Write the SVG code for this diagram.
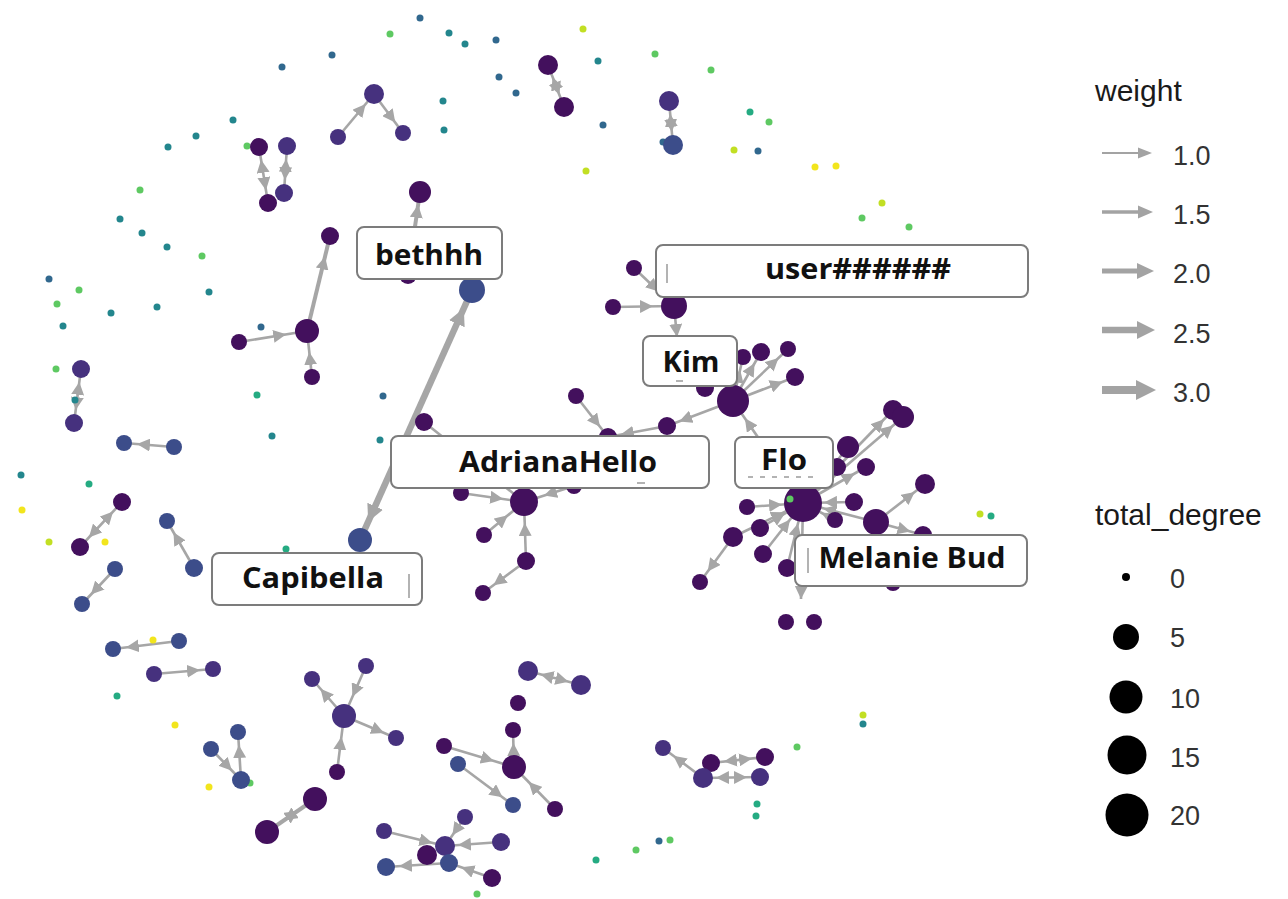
<svg xmlns="http://www.w3.org/2000/svg" width="1288" height="899" viewBox="0 0 1288 899">
<style>
.d{fill:#43105d}.i{fill:#46317e}.b{fill:#3c4d8a}
.sb{fill:#31688e}.st{fill:#23868d}.sg{fill:#25ab82}.sG{fill:#5ec962}.sy{fill:#c2df23}.sY{fill:#f2e51d}
.e{stroke:#a6a6a6;fill:none;stroke-width:2.6}.e2{stroke-width:4}.e3{stroke-width:6.5}
.lb{fill:#fff;stroke:#7c7c7c;stroke-width:2}
.lt{font-family:"Open Sans","Liberation Sans",sans-serif;font-weight:700;font-size:29px;fill:#111;text-anchor:middle}
.tt{font-family:"Liberation Sans",Arial,sans-serif;font-size:30px;fill:#1a1a1a}
.tl{font-family:"Liberation Sans",Arial,sans-serif;font-size:27px;fill:#333}
.art{stroke:#9a9a9a;stroke-width:1.5}
</style>
<defs>
<marker id="a" viewBox="0 0 27 13" refX="26" refY="6.5" markerWidth="27" markerHeight="13" orient="auto-start-reverse" markerUnits="userSpaceOnUse"><path d="M0,0L13,6.5L0,13z" fill="#a6a6a6"/></marker>
<marker id="A" viewBox="0 0 35 13" refX="34" refY="6.5" markerWidth="35" markerHeight="13" orient="auto-start-reverse" markerUnits="userSpaceOnUse"><path d="M0,0L13,6.5L0,13z" fill="#a6a6a6"/></marker>
<marker id="T" viewBox="0 0 38 17" refX="37" refY="8.5" markerWidth="38" markerHeight="17" orient="auto-start-reverse" markerUnits="userSpaceOnUse"><path d="M0,0L17,8.5L0,17z" fill="#a6a6a6"/></marker>
<marker id="t" viewBox="0 0 13 13" refX="13" refY="6.5" markerWidth="13" markerHeight="13" orient="auto" markerUnits="userSpaceOnUse"><path d="M0,0L13,6.5L0,13z" fill="#a6a6a6"/></marker>
</defs>
<rect width="1288" height="899" fill="#fff"/>

<g id="edges">
<path class="e" d="M338,137L374,94" marker-end="url(#a)"/>
<path class="e" d="M374,94L403,133" marker-end="url(#a)"/>
<path class="e" d="M548,65L564,107" marker-start="url(#a)" marker-end="url(#a)"/>
<path class="e" d="M669,101L673,145" marker-start="url(#a)" marker-end="url(#a)"/>
<path class="e" d="M259,147L268,203" marker-start="url(#a)" marker-end="url(#a)"/>
<path class="e" d="M287,146L284,193" marker-start="url(#a)" marker-end="url(#a)"/>
<path class="e e2" d="M408,275L420,192" marker-end="url(#a)"/>
<path class="e e2" d="M307,331L330,236" marker-end="url(#A)"/>
<path class="e" d="M239,342L307,331" marker-end="url(#A)"/>
<path class="e" d="M312,377L307,331" marker-end="url(#A)"/>
<path class="e" d="M81,369L74,423" marker-start="url(#a)" marker-end="url(#a)"/>
<path class="e" d="M174,447L124,443" marker-end="url(#a)"/>
<path class="e" d="M122,502L80,547" marker-start="url(#a)" marker-end="url(#a)"/>
<path class="e" d="M194,568L167,521" marker-end="url(#a)"/>
<path class="e" d="M115,569L82,604" marker-end="url(#a)"/>
<path class="e e3" d="M360,540L472,290" marker-start="url(#T)" marker-end="url(#T)"/>
<path class="e" d="M179,641L113,649" marker-end="url(#a)"/>
<path class="e" d="M154,674L213,669" marker-end="url(#a)"/>
<path class="e" d="M211,749L241,780" marker-end="url(#a)"/>
<path class="e" d="M241,780L238,732" marker-end="url(#a)"/>
<path class="e" d="M344,716L312,679" marker-end="url(#a)"/>
<path class="e" d="M337,772L344,716" marker-end="url(#A)"/>
<path class="e" d="M366,666L344,716" marker-end="url(#A)"/>
<path class="e" d="M344,716L396,738" marker-end="url(#a)"/>
<path class="e e2" d="M315,799L267,832" marker-start="url(#A)" marker-end="url(#A)"/>
<path class="e" d="M528,671L581,685" marker-start="url(#a)" marker-end="url(#a)"/>
<path class="e" d="M514,767L513,730" marker-end="url(#a)"/>
<path class="e" d="M444,746L514,767" marker-end="url(#A)"/>
<path class="e" d="M458,764L513,805" marker-end="url(#a)"/>
<path class="e" d="M555,809L514,767" marker-end="url(#A)"/>
<path class="e" d="M465,817L445,846" marker-end="url(#a)"/>
<path class="e" d="M384,831L445,846" marker-end="url(#a)"/>
<path class="e" d="M501,842L445,846" marker-end="url(#a)"/>
<path class="e" d="M492,878L449,863" marker-end="url(#a)"/>
<path class="e" d="M449,863L386,867" marker-end="url(#a)"/>
<path class="e" d="M703,778L663,748" marker-end="url(#a)"/>
<path class="e" d="M711,763L765,757" marker-start="url(#a)" marker-end="url(#a)"/>
<path class="e" d="M703,778L760,777" marker-start="url(#a)" marker-end="url(#a)"/>
<path class="e" d="M634,268L674,306" marker-end="url(#A)"/>
<path class="e" d="M613,307L674,306" marker-end="url(#A)"/>
<path class="e" d="M674,306L677,337" marker-end="url(#t)"/>
<path class="e" d="M733,401L761,352" marker-end="url(#a)"/>
<path class="e" d="M733,401L788,349" marker-end="url(#a)"/>
<path class="e" d="M733,401L795,377" marker-end="url(#a)"/>
<path class="e" d="M733,401L743,357" marker-end="url(#a)"/>
<path class="e" d="M733,401L667,426" marker-end="url(#a)"/>
<path class="e" d="M667,426L608,437" marker-end="url(#a)"/>
<path class="e" d="M576,396L608,437" marker-end="url(#a)"/>
<path class="e" d="M424,422L524,502" marker-end="url(#A)"/>
<path class="e" d="M461,493L524,502" marker-end="url(#A)"/>
<path class="e" d="M484,535L524,502" marker-end="url(#A)"/>
<path class="e" d="M526,561L524,502" marker-end="url(#A)"/>
<path class="e" d="M526,561L483,593" marker-end="url(#a)"/>
<path class="e" d="M574,486L524,502" marker-end="url(#A)"/>
<path class="e" d="M803,503L733,401" marker-end="url(#A)"/>
<path class="e" d="M747,507L803,503" marker-end="url(#A)"/>
<path class="e" d="M760,528L803,503" marker-end="url(#A)"/>
<path class="e" d="M733,537L803,503" marker-end="url(#A)"/>
<path class="e" d="M763,554L803,503" marker-end="url(#A)"/>
<path class="e" d="M787,568L803,503" marker-end="url(#A)"/>
<path class="e" d="M837,467L803,503" marker-end="url(#A)"/>
<path class="e" d="M854,502L803,503" marker-end="url(#A)"/>
<path class="e" d="M835,520L803,503" marker-end="url(#A)"/>
<path class="e" d="M876,522L803,503" marker-end="url(#A)"/>
<path class="e" d="M803,503L893,410" marker-end="url(#a)"/>
<path class="e" d="M803,503L903,417" marker-end="url(#a)"/>
<path class="e" d="M803,503L848,447" marker-end="url(#a)"/>
<path class="e" d="M803,503L866,467" marker-end="url(#a)"/>
<path class="e" d="M803,503L801,599" marker-end="url(#t)"/>
<path class="e" d="M733,537L700,582" marker-end="url(#a)"/>
<path class="e" d="M876,522L925,484" marker-end="url(#a)"/>
<path class="e" d="M876,522L923,535" marker-end="url(#a)"/>
</g>

<g id="isolates">
<g id="s1"><circle class="sb" cx="420" cy="18" r="3.5"/></g>
<g id="s2"><circle class="sG" cx="390" cy="34" r="3.5"/></g>
<g id="s3"><circle class="st" cx="449" cy="33" r="3.5"/></g>
<g id="s4"><circle class="st" cx="465" cy="44" r="3.5"/></g>
<g id="s5"><circle class="sb" cx="496" cy="40" r="3.5"/></g>
<g id="s6"><circle class="sb" cx="332" cy="55" r="3.5"/></g>
<g id="s7"><circle class="sb" cx="282" cy="67" r="3.5"/></g>
<g id="s8"><circle class="sb" cx="499" cy="77" r="3.5"/></g>
<g id="s9"><circle class="sb" cx="516" cy="93" r="3.5"/></g>
<g id="s10"><circle class="st" cx="443" cy="101" r="3.5"/></g>
<g id="s11"><circle class="st" cx="444" cy="130" r="3.5"/></g>
<g id="s12"><circle class="sy" cx="583" cy="29" r="3.5"/></g>
<g id="s13"><circle class="st" cx="598" cy="61" r="3.5"/></g>
<g id="s14"><circle class="sG" cx="655" cy="54" r="3.5"/></g>
<g id="s15"><circle class="sb" cx="603" cy="125" r="3.5"/></g>
<g id="s16"><circle class="sy" cx="586" cy="171" r="3.5"/></g>
<g id="s17"><circle class="sb" cx="663" cy="142" r="3.5"/></g>
<g id="s18"><circle class="sG" cx="711" cy="70" r="3.5"/></g>
<g id="s19"><circle class="sg" cx="750" cy="112" r="3.5"/></g>
<g id="s20"><circle class="sG" cx="769" cy="122" r="3.5"/></g>
<g id="s21"><circle class="sy" cx="734" cy="150" r="3.5"/></g>
<g id="s22"><circle class="sb" cx="758" cy="151" r="3.5"/></g>
<g id="s23"><circle class="sY" cx="815" cy="167" r="3.5"/></g>
<g id="s24"><circle class="sY" cx="836" cy="166" r="3.5"/></g>
<g id="s25"><circle class="sy" cx="882" cy="203" r="3.5"/></g>
<g id="s26"><circle class="sG" cx="862" cy="218" r="3.5"/></g>
<g id="s27"><circle class="sG" cx="909" cy="227" r="3.5"/></g>
<g id="s28"><circle class="st" cx="233" cy="120" r="3.5"/></g>
<g id="s29"><circle class="st" cx="196" cy="136" r="3.5"/></g>
<g id="s30"><circle class="st" cx="168" cy="147" r="3.5"/></g>
<g id="s31"><circle class="sG" cx="247" cy="146" r="3.5"/></g>
<g id="s32"><circle class="sG" cx="140" cy="190" r="3.5"/></g>
<g id="s33"><circle class="st" cx="120" cy="219" r="3.5"/></g>
<g id="s34"><circle class="st" cx="142" cy="233" r="3.5"/></g>
<g id="s35"><circle class="st" cx="167" cy="247" r="3.5"/></g>
<g id="s36"><circle class="sG" cx="202" cy="256" r="3.5"/></g>
<g id="s37"><circle class="sb" cx="49" cy="279" r="3.5"/></g>
<g id="s38"><circle class="sG" cx="79" cy="290" r="3.5"/></g>
<g id="s39"><circle class="st" cx="209" cy="292" r="3.5"/></g>
<g id="s40"><circle class="sG" cx="57" cy="304" r="3.5"/></g>
<g id="s41"><circle class="st" cx="111" cy="313" r="3.5"/></g>
<g id="s42"><circle class="st" cx="157" cy="307" r="3.5"/></g>
<g id="s43"><circle class="st" cx="63" cy="326" r="3.5"/></g>
<g id="s44"><circle class="sb" cx="261" cy="327" r="3.5"/></g>
<g id="s45"><circle class="sG" cx="56" cy="369" r="3.5"/></g>
<g id="s46"><circle class="st" cx="75" cy="400" r="3.5"/></g>
<g id="s47"><circle class="sg" cx="257" cy="395" r="3.5"/></g>
<g id="s48"><circle class="st" cx="272" cy="436" r="3.5"/></g>
<g id="s49"><circle class="st" cx="21" cy="475" r="3.5"/></g>
<g id="s50"><circle class="sg" cx="89" cy="484" r="3.5"/></g>
<g id="s51"><circle class="sY" cx="22" cy="510" r="3.5"/></g>
<g id="s52"><circle class="sy" cx="49" cy="542" r="3.5"/></g>
<g id="s53"><circle class="sY" cx="105" cy="542" r="3.5"/></g>
<g id="s54"><circle class="sg" cx="286" cy="549" r="3.5"/></g>
<g id="s55"><circle class="sY" cx="153" cy="640" r="3.5"/></g>
<g id="s56"><circle class="sg" cx="117" cy="696" r="3.5"/></g>
<g id="s57"><circle class="sY" cx="175" cy="725" r="3.5"/></g>
<g id="s58"><circle class="sY" cx="209" cy="787" r="3.5"/></g>
<g id="s59"><circle class="sG" cx="250" cy="783" r="3.5"/></g>
<g id="s60"><circle class="sb" cx="383" cy="396" r="3.5"/></g>
<g id="s61"><circle class="st" cx="380" cy="440" r="3.5"/></g>
<g id="s62"><circle class="sG" cx="477" cy="894" r="3.5"/></g>
<g id="s63"><circle class="sg" cx="596" cy="860" r="3.5"/></g>
<g id="s64"><circle class="sG" cx="636" cy="850" r="3.5"/></g>
<g id="s65"><circle class="sb" cx="659" cy="841" r="3.5"/></g>
<g id="s66"><circle class="sG" cx="670" cy="840" r="3.5"/></g>
<g id="s67"><circle class="sy" cx="863" cy="715" r="3.5"/></g>
<g id="s68"><circle class="st" cx="863" cy="724" r="3.5"/></g>
<g id="s69"><circle class="sG" cx="797" cy="747" r="3.5"/></g>
<g id="s70"><circle class="sg" cx="757" cy="804" r="3.5"/></g>
<g id="s71"><circle class="sg" cx="756" cy="816" r="3.5"/></g>
<g id="s72"><circle class="sy" cx="980" cy="514" r="3.5"/></g>
<g id="s73"><circle class="sg" cx="991" cy="516" r="3.5"/></g>
</g>

<g id="nodes">
<g id="n1"><circle class="d" cx="548" cy="65" r="10"/></g>
<g id="n2"><circle class="d" cx="564" cy="107" r="10"/></g>
<g id="n3"><circle class="d" cx="259" cy="147" r="9"/></g>
<g id="n4"><circle class="d" cx="268" cy="203" r="9"/></g>
<g id="n5"><circle class="d" cx="420" cy="192" r="11"/></g>
<g id="n6"><circle class="d" cx="330" cy="236" r="9"/></g>
<g id="n7"><circle class="d" cx="408" cy="275" r="9"/></g>
<g id="n8"><circle class="d" cx="307" cy="331" r="12"/></g>
<g id="n9"><circle class="d" cx="239" cy="342" r="8"/></g>
<g id="n10"><circle class="d" cx="312" cy="377" r="8"/></g>
<g id="n11"><circle class="d" cx="122" cy="502" r="9"/></g>
<g id="n12"><circle class="d" cx="80" cy="547" r="9"/></g>
<g id="n13"><circle class="d" cx="337" cy="772" r="8"/></g>
<g id="n14"><circle class="d" cx="315" cy="799" r="12"/></g>
<g id="n15"><circle class="d" cx="267" cy="832" r="12"/></g>
<g id="n16"><circle class="d" cx="518" cy="703" r="8"/></g>
<g id="n17"><circle class="d" cx="513" cy="730" r="8"/></g>
<g id="n18"><circle class="d" cx="514" cy="767" r="12"/></g>
<g id="n19"><circle class="d" cx="444" cy="746" r="8"/></g>
<g id="n20"><circle class="d" cx="555" cy="809" r="8"/></g>
<g id="n21"><circle class="d" cx="427" cy="855" r="10"/></g>
<g id="n22"><circle class="d" cx="492" cy="878" r="9"/></g>
<g id="n23"><circle class="d" cx="711" cy="763" r="9"/></g>
<g id="n24"><circle class="d" cx="765" cy="757" r="9"/></g>
<g id="n25"><circle class="d" cx="786" cy="622" r="8"/></g>
<g id="n26"><circle class="d" cx="814" cy="622" r="8"/></g>
<g id="n27"><circle class="d" cx="634" cy="268" r="8"/></g>
<g id="n28"><circle class="d" cx="613" cy="307" r="8"/></g>
<g id="n29"><circle class="d" cx="674" cy="306" r="13"/></g>
<g id="n30"><circle class="d" cx="733" cy="401" r="16"/></g>
<g id="n31"><circle class="d" cx="761" cy="352" r="9"/></g>
<g id="n32"><circle class="d" cx="788" cy="349" r="8"/></g>
<g id="n33"><circle class="d" cx="743" cy="357" r="8"/></g>
<g id="n34"><circle class="d" cx="795" cy="377" r="9"/></g>
<g id="n35"><circle class="d" cx="705" cy="388" r="9"/></g>
<g id="n36"><circle class="d" cx="667" cy="426" r="9"/></g>
<g id="n37"><circle class="d" cx="608" cy="437" r="9"/></g>
<g id="n38"><circle class="d" cx="576" cy="396" r="8"/></g>
<g id="n39"><circle class="d" cx="424" cy="422" r="9"/></g>
<g id="n40"><circle class="d" cx="524" cy="502" r="14"/></g>
<g id="n41"><circle class="d" cx="461" cy="493" r="8"/></g>
<g id="n42"><circle class="d" cx="484" cy="535" r="8"/></g>
<g id="n43"><circle class="d" cx="526" cy="561" r="9"/></g>
<g id="n44"><circle class="d" cx="483" cy="593" r="8"/></g>
<g id="n45"><circle class="d" cx="574" cy="486" r="8"/></g>
<g id="n46"><circle class="d" cx="803" cy="503" r="19"/></g>
<g id="n47"><circle class="d" cx="747" cy="507" r="8"/></g>
<g id="n48"><circle class="d" cx="760" cy="528" r="9"/></g>
<g id="n49"><circle class="d" cx="733" cy="537" r="10"/></g>
<g id="n50"><circle class="d" cx="763" cy="554" r="9"/></g>
<g id="n51"><circle class="d" cx="787" cy="568" r="9"/></g>
<g id="n52"><circle class="d" cx="700" cy="582" r="8"/></g>
<g id="n53"><circle class="d" cx="848" cy="447" r="11"/></g>
<g id="n54"><circle class="d" cx="866" cy="467" r="9"/></g>
<g id="n55"><circle class="d" cx="837" cy="467" r="9"/></g>
<g id="n56"><circle class="d" cx="854" cy="502" r="9"/></g>
<g id="n57"><circle class="d" cx="835" cy="520" r="8"/></g>
<g id="n58"><circle class="d" cx="876" cy="522" r="13"/></g>
<g id="n59"><circle class="d" cx="925" cy="484" r="10"/></g>
<g id="n60"><circle class="d" cx="893" cy="410" r="10"/></g>
<g id="n61"><circle class="d" cx="903" cy="417" r="11"/></g>
<g id="n62"><circle class="d" cx="923" cy="535" r="9"/></g>
<g id="n63"><circle class="d" cx="893" cy="583" r="8"/></g>
<g id="n64"><circle class="i" cx="374" cy="94" r="10"/></g>
<g id="n65"><circle class="i" cx="403" cy="133" r="8"/></g>
<g id="n66"><circle class="i" cx="338" cy="137" r="8"/></g>
<g id="n67"><circle class="i" cx="669" cy="101" r="10"/></g>
<g id="n68"><circle class="i" cx="287" cy="146" r="9"/></g>
<g id="n69"><circle class="i" cx="284" cy="193" r="9"/></g>
<g id="n70"><circle class="i" cx="81" cy="369" r="9"/></g>
<g id="n71"><circle class="i" cx="74" cy="423" r="9"/></g>
<g id="n72"><circle class="i" cx="154" cy="674" r="8"/></g>
<g id="n73"><circle class="i" cx="213" cy="669" r="8"/></g>
<g id="n74"><circle class="i" cx="312" cy="679" r="8"/></g>
<g id="n75"><circle class="i" cx="366" cy="666" r="8"/></g>
<g id="n76"><circle class="i" cx="344" cy="716" r="12"/></g>
<g id="n77"><circle class="i" cx="396" cy="738" r="8"/></g>
<g id="n78"><circle class="i" cx="528" cy="671" r="10"/></g>
<g id="n79"><circle class="i" cx="581" cy="685" r="10"/></g>
<g id="n80"><circle class="i" cx="465" cy="817" r="8"/></g>
<g id="n81"><circle class="i" cx="384" cy="831" r="8"/></g>
<g id="n82"><circle class="i" cx="445" cy="846" r="10"/></g>
<g id="n83"><circle class="i" cx="501" cy="842" r="9"/></g>
<g id="n84"><circle class="i" cx="663" cy="748" r="8"/></g>
<g id="n85"><circle class="i" cx="703" cy="778" r="10"/></g>
<g id="n86"><circle class="i" cx="760" cy="777" r="9"/></g>
<g id="n87"><circle class="b" cx="673" cy="145" r="10"/></g>
<g id="n88"><circle class="b" cx="472" cy="290" r="13"/></g>
<g id="n89"><circle class="b" cx="124" cy="443" r="8"/></g>
<g id="n90"><circle class="b" cx="174" cy="447" r="8"/></g>
<g id="n91"><circle class="b" cx="167" cy="521" r="8"/></g>
<g id="n92"><circle class="b" cx="194" cy="568" r="9"/></g>
<g id="n93"><circle class="b" cx="115" cy="569" r="8"/></g>
<g id="n94"><circle class="b" cx="82" cy="604" r="8"/></g>
<g id="n95"><circle class="b" cx="360" cy="540" r="12"/></g>
<g id="n96"><circle class="b" cx="113" cy="649" r="8"/></g>
<g id="n97"><circle class="b" cx="179" cy="641" r="8"/></g>
<g id="n98"><circle class="b" cx="238" cy="732" r="8"/></g>
<g id="n99"><circle class="b" cx="211" cy="749" r="8"/></g>
<g id="n100"><circle class="b" cx="241" cy="780" r="9"/></g>
<g id="n101"><circle class="b" cx="458" cy="764" r="8"/></g>
<g id="n102"><circle class="b" cx="513" cy="805" r="8"/></g>
<g id="n103"><circle class="b" cx="449" cy="863" r="9"/></g>
<g id="n104"><circle class="b" cx="386" cy="867" r="9"/></g>
<g id="n105"><circle class="sG" cx="790" cy="499" r="3.5"/></g>
</g>

<g id="labels">
<g id="label-bethhh"><rect class="lb" x="357" y="227" width="145" height="52" rx="7"/><text class="lt" x="429" y="265" textLength="108" lengthAdjust="spacingAndGlyphs">bethhh</text></g>
<g id="label-user"><rect class="lb" x="656" y="245" width="372" height="52" rx="7"/><line class="art" x1="667" y1="264" x2="667" y2="283"/><text class="lt" x="858" y="279" textLength="186" lengthAdjust="spacingAndGlyphs">user######</text></g>
<g id="label-kim"><rect class="lb" x="643" y="336" width="94" height="50" rx="7"/><line class="art" x1="676" y1="381" x2="683" y2="381"/><text class="lt" x="691" y="372" textLength="57" lengthAdjust="spacingAndGlyphs">Kim</text></g>
<g id="label-adriana"><rect class="lb" x="391" y="436" width="318" height="52" rx="7"/><line class="art" x1="637" y1="483" x2="645" y2="483"/><text class="lt" x="558" y="472" textLength="198" lengthAdjust="spacingAndGlyphs">AdrianaHello</text></g>
<g id="label-flo"><rect class="lb" x="735" y="437" width="98" height="51" rx="7"/><line class="art" x1="748" y1="477" x2="816" y2="477" stroke-dasharray="5,7"/><text class="lt" x="784" y="470" textLength="46" lengthAdjust="spacingAndGlyphs">Flo</text></g>
<g id="label-melanie"><rect class="lb" x="795" y="535" width="232" height="51" rx="7"/><line class="art" x1="808" y1="548" x2="808" y2="573"/><text class="lt" x="912" y="568" textLength="187" lengthAdjust="spacingAndGlyphs">Melanie Bud</text></g>
<g id="label-capibella"><rect class="lb" x="212" y="553" width="210" height="52" rx="7"/><line class="art" x1="409" y1="574" x2="409" y2="598"/><text class="lt" x="313" y="588" textLength="142" lengthAdjust="spacingAndGlyphs">Capibella</text></g>
</g>

<g id="legend-weight">
<text class="tt" x="1095" y="101">weight</text>
<g fill="#a3a3a3" stroke="#a3a3a3">
<line x1="1102" y1="153" x2="1140" y2="153" stroke-width="2"/><path d="M1138,147.5L1152,153L1138,158.5z" stroke="none"/>
<line x1="1102" y1="212" x2="1140" y2="212" stroke-width="3.5"/><path d="M1138,205.5L1153,212L1138,218.5z" stroke="none"/>
<line x1="1102" y1="271" x2="1140" y2="271" stroke-width="5"/><path d="M1137,263L1154,271L1137,279z" stroke="none"/>
<line x1="1102" y1="330" x2="1140" y2="330" stroke-width="6.5"/><path d="M1137,321L1155,330L1137,339z" stroke="none"/>
<line x1="1102" y1="390" x2="1140" y2="390" stroke-width="8"/><path d="M1136,380L1156,390L1136,400z" stroke="none"/>
</g>
<text class="tl" x="1173" y="165">1.0</text>
<text class="tl" x="1173" y="224">1.5</text>
<text class="tl" x="1173" y="283">2.0</text>
<text class="tl" x="1173" y="343">2.5</text>
<text class="tl" x="1173" y="402">3.0</text>
</g>

<g id="legend-degree">
<text class="tt" x="1095" y="525">total_degree</text>
<circle cx="1126" cy="577" r="4" fill="#000"/>
<circle cx="1126" cy="637" r="13" fill="#000"/>
<circle cx="1126" cy="697" r="16.5" fill="#000"/>
<circle cx="1127" cy="755" r="19.5" fill="#000"/>
<circle cx="1127" cy="815" r="21.5" fill="#000"/>
<text class="tl" x="1170" y="588">0</text>
<text class="tl" x="1170" y="647">5</text>
<text class="tl" x="1170" y="708">10</text>
<text class="tl" x="1170" y="767">15</text>
<text class="tl" x="1170" y="825">20</text>
</g>
</svg>
